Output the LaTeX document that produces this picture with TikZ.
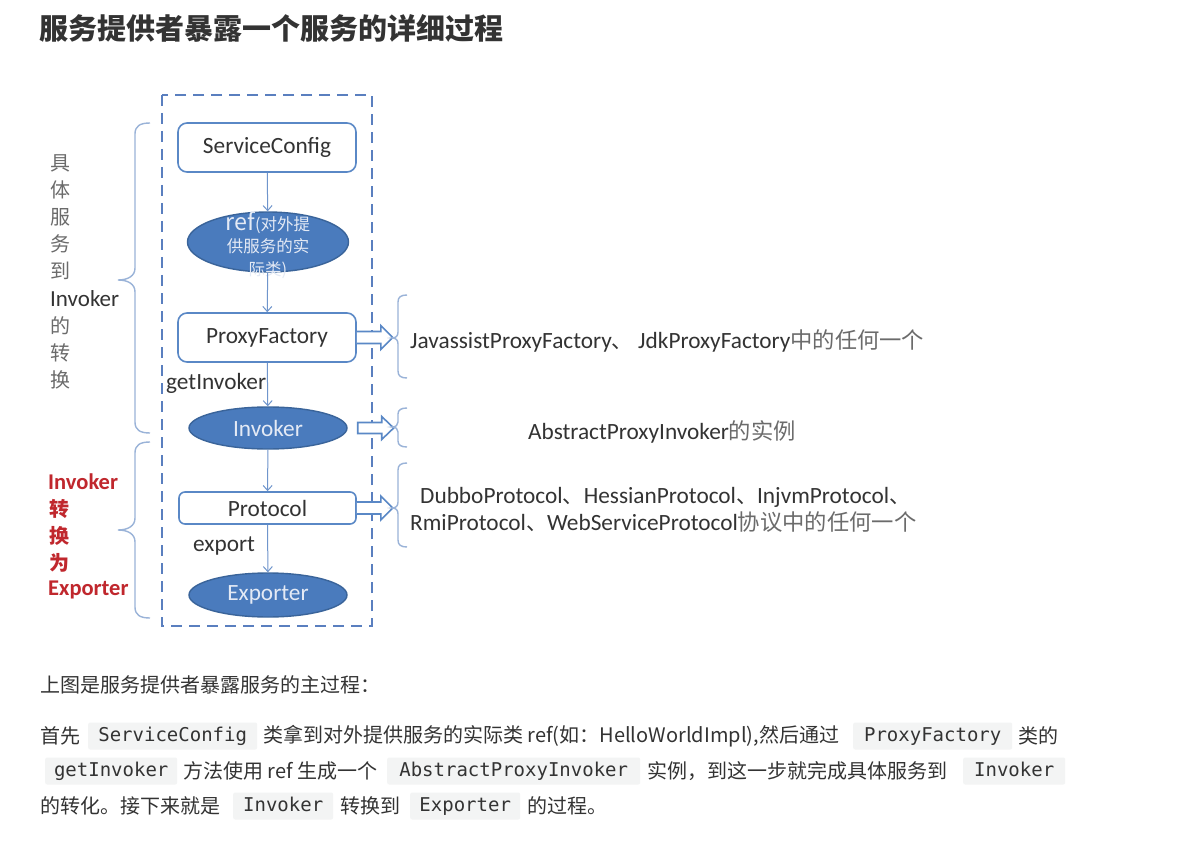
\documentclass[tikz,border=0pt]{standalone}
\usepackage{fontspec}
\setmainfont{Carlito}
\newfontfamily\cjk{Noto Sans CJK SC}
\newfontfamily\monof{DejaVu Sans Mono}
\usetikzlibrary{arrows.meta,shapes.geometric}
\definecolor{boxblue}{HTML}{5A88C6}
\definecolor{ellblue}{HTML}{4A7BBD}
\definecolor{elldark}{HTML}{3A649A}
\definecolor{elltxt}{HTML}{E4EAF5}
\definecolor{connblue}{HTML}{6F95CC}
\definecolor{dashblue}{HTML}{5A7FBF}
\definecolor{braceblue}{HTML}{9AB3D8}
\definecolor{redtxt}{HTML}{C0272D}
\definecolor{txtdark}{HTML}{333333}
\definecolor{txtgray}{HTML}{6B6B6B}
\definecolor{codebg}{HTML}{F3F4F4}
\newcommand{\lat}{\fontsize{23.3}{27}\selectfont}
\newcommand{\dcj}{\cjk\fontsize{22.3}{27}\selectfont\color{txtgray}}
\newcommand{\pcj}{\cjk\fontsize{21}{26}\selectfont}
\begin{document}
\begin{tikzpicture}[x=1pt,y=-1pt,
  procbox/.style={draw=boxblue, line width=1.6pt, rounded corners=9pt, fill=white,
    minimum width=178pt, minimum height=49pt, inner sep=0pt, text=txtdark,
    font=\fontsize{23.3}{27}\selectfont},
  ell/.style={ellipse, draw=elldark, line width=1.4pt, fill=ellblue, text=elltxt,
    inner sep=0pt, minimum width=158pt, minimum height=42pt,
    font=\fontsize{23.3}{27}\selectfont},
  conn/.style={draw=connblue, line width=1pt, -{Straight Barb[length=5pt,width=9pt]}},
  hollow/.style={draw=boxblue, line width=1.6pt, fill=white, line join=miter},
  bracepath/.style={draw=braceblue, line width=1.4pt},
  lbl/.style={inner sep=0pt, text=txtdark, font=\fontsize{23.3}{27}\selectfont},
  vtxt/.style={inner sep=0pt, anchor=west, text=txtgray, font=\cjk\fontsize{20}{24}\selectfont},
  vlat/.style={inner sep=0pt, anchor=west, text=txtdark, font=\fontsize{23}{26}\selectfont},
  rtxt/.style={inner sep=0pt, anchor=west, text=redtxt, font=\cjk\bfseries\fontsize{20}{24}\selectfont},
  rlat/.style={inner sep=0pt, anchor=west, text=redtxt, font=\bfseries\fontsize{22.5}{26}\selectfont},
  body/.style={inner sep=0pt, anchor=west, text=txtdark, font=\cjk\fontsize{20}{24}\selectfont},
  code/.style={inner sep=0pt, anchor=west, fill=codebg, rounded corners=2pt, minimum height=27pt,
    text height=14pt, text depth=4pt,
    text=txtdark, font=\monof\fontsize{19}{22}\selectfont}
]
\useasboundingbox[fill=white] (0,0) rectangle (1200,845);

% title
\node[inner sep=0pt, anchor=west, text=txtdark, font=\cjk\bfseries\fontsize{29}{32}\selectfont] (title) at (39,28) {服务提供者暴露一个服务的详细过程};

% dashed frame
\draw[draw=dashblue, line width=1.8pt, dash pattern=on 11pt off 7pt] (162,95) rectangle (372,626);

% main flow
\node[procbox] (sc) at (267,147.5) {ServiceConfig};
\node[ell, minimum width=161pt, minimum height=60pt] (ref) at (268,242) {};
\node[inner sep=0pt, text=elltxt, align=center, font=\cjk\fontsize{16.5}{22.5}\selectfont] (reft) at (268,245) {{\lat ref}(对外提\\供服务的实\\际类)};
\node[procbox] (pf) at (267,337.5) {ProxyFactory};
\node[ell] (inv) at (268,428) {Invoker};
\node[procbox, minimum width=177pt, minimum height=32pt, rounded corners=6pt] (proto) at (267.5,508) {Protocol};
\node[ell, minimum height=44pt] (exp) at (268,595) {Exporter};

\draw[conn] (sc) -- (ref);
\draw[conn] (ref) -- (pf);
\draw[conn] (pf) -- (inv);
\draw[conn] (inv) -- (proto);
\draw[conn] (proto) -- (exp);

\node[lbl, anchor=west] (gi) at (166,383) {getInvoker};
\node[lbl, anchor=west] (ex) at (193,546) {export};

% hollow arrows
\draw[hollow, shift={(pf.east)}] (0,-6) -- (24,-6) -- (24,-12) -- (36,0) -- (24,12) -- (24,6) -- (0,6);
\draw[hollow, shift={(inv.east)}] (10,-5.5) -- (34,-5.5) -- (34,-11.5) -- (46,0) -- (34,11.5) -- (34,5.5) -- (10,5.5) -- cycle;
\draw[hollow, shift={(proto.east)}] (0,-6) -- (24,-6) -- (24,-12) -- (36,0) -- (24,12) -- (24,6) -- (0,6);

% left braces
\draw[bracepath] (150,123) .. controls (140,123) and (135,126) .. (135,134) -- (135,268) .. controls (135,276) and (128,280) .. (118,280) .. controls (128,280) and (135,284) .. (135,292) -- (135,422) .. controls (135,430) and (140,433) .. (150,433);
\draw[bracepath] (150,442) .. controls (140,442) and (135,445) .. (135,453) -- (135,518) .. controls (135,526) and (128,530) .. (118,530) .. controls (128,530) and (135,534) .. (135,542) -- (135,607) .. controls (135,615) and (140,618) .. (150,618);

% right braces
\draw[bracepath] (407,295) .. controls (401,295) and (398,297) .. (398,302) -- (398,332) .. controls (398,336) and (396,338) .. (392,338) .. controls (396,338) and (398,340) .. (398,344) -- (398,371) .. controls (398,376) and (401,378) .. (407,378);
\draw[bracepath] (407,408) .. controls (401,408) and (398,410) .. (398,414) -- (398,422) .. controls (398,425) and (396,427) .. (392,427) .. controls (396,427) and (398,429) .. (398,432) -- (398,441) .. controls (398,445) and (401,447) .. (407,447);
\draw[bracepath] (407,463) .. controls (401,463) and (398,465) .. (398,470) -- (398,502) .. controls (398,506) and (396,508) .. (392,508) .. controls (396,508) and (398,510) .. (398,514) -- (398,540) .. controls (398,545) and (401,547) .. (407,547);

% left vertical labels
\node[vtxt] (l1) at (50,163) {具};
\node[vtxt] (l2) at (50,190) {体};
\node[vtxt] (l3) at (50,217) {服};
\node[vtxt] (l4) at (50,244) {务};
\node[vtxt] (l5) at (50,271) {到};
\node[vlat] (l6) at (50,299) {Invoker};
\node[vtxt] (l7) at (50,326) {的};
\node[vtxt] (l8) at (50,353) {转};
\node[vtxt] (l9) at (50,380) {换};

\node[rlat] (r1) at (48,482) {Invoker};
\node[rtxt] (r2) at (49,509) {转};
\node[rtxt] (r3) at (49,536) {换};
\node[rtxt] (r4) at (49,563) {为};
\node[rlat] (r5) at (48,590) {Exporter};

% right descriptions
\node[inner sep=0pt, anchor=west, text=txtdark] (d1) at (410,341) {\lat JavassistProxyFactory{\pcj 、} JdkProxyFactory{\dcj 中的任何一个}};
\node[inner sep=0pt, text=txtdark] (d2) at (662,432) {\lat AbstractProxyInvoker{\dcj 的实例}};
\node[inner sep=0pt, anchor=west, text=txtdark] (d3) at (420,497) {\lat DubboProtocol{\pcj 、}HessianProtocol{\pcj 、}InjvmProtocol{\pcj 、}};
\node[inner sep=0pt, anchor=west, text=txtdark] (d4) at (410,522) {\lat RmiProtocol{\pcj 、}WebServiceProtocol{\dcj 协议中的任何一个}};

% bottom paragraph
\node[body] (p1) at (40,685) {上图是服务提供者暴露服务的主过程：};

\node[body] (p2a) at (40,736) {首先};
\node[code, minimum width=169pt] (c1) at (88,736) {ServiceConfig};
\node[body] (p2b) at (263,736) {类拿到对外提供服务的实际类 ref(如：HelloWorldImpl),然后通过};
\node[code, minimum width=159pt] (c2) at (853,736) {ProxyFactory};
\node[body] (p2c) at (1018,736) {类的};

\node[code, minimum width=132pt] (c3) at (45,771) {getInvoker};
\node[body] (p3a) at (183,771) {方法使用 ref 生成一个};
\node[code, minimum width=253pt] (c4) at (387,771) {AbstractProxyInvoker};
\node[body] (p3b) at (647,771) {实例，到这一步就完成具体服务到};
\node[code, minimum width=102pt] (c5) at (963,771) {Invoker};

\node[body] (p4a) at (40,806) {的转化。接下来就是};
\node[code, minimum width=100pt] (c6) at (233,806) {Invoker};
\node[body] (p4b) at (340,806) {转换到};
\node[code, minimum width=110pt] (c7) at (410,806) {Exporter};
\node[body] (p4c) at (527,806) {的过程。};
\end{tikzpicture}
\end{document}
